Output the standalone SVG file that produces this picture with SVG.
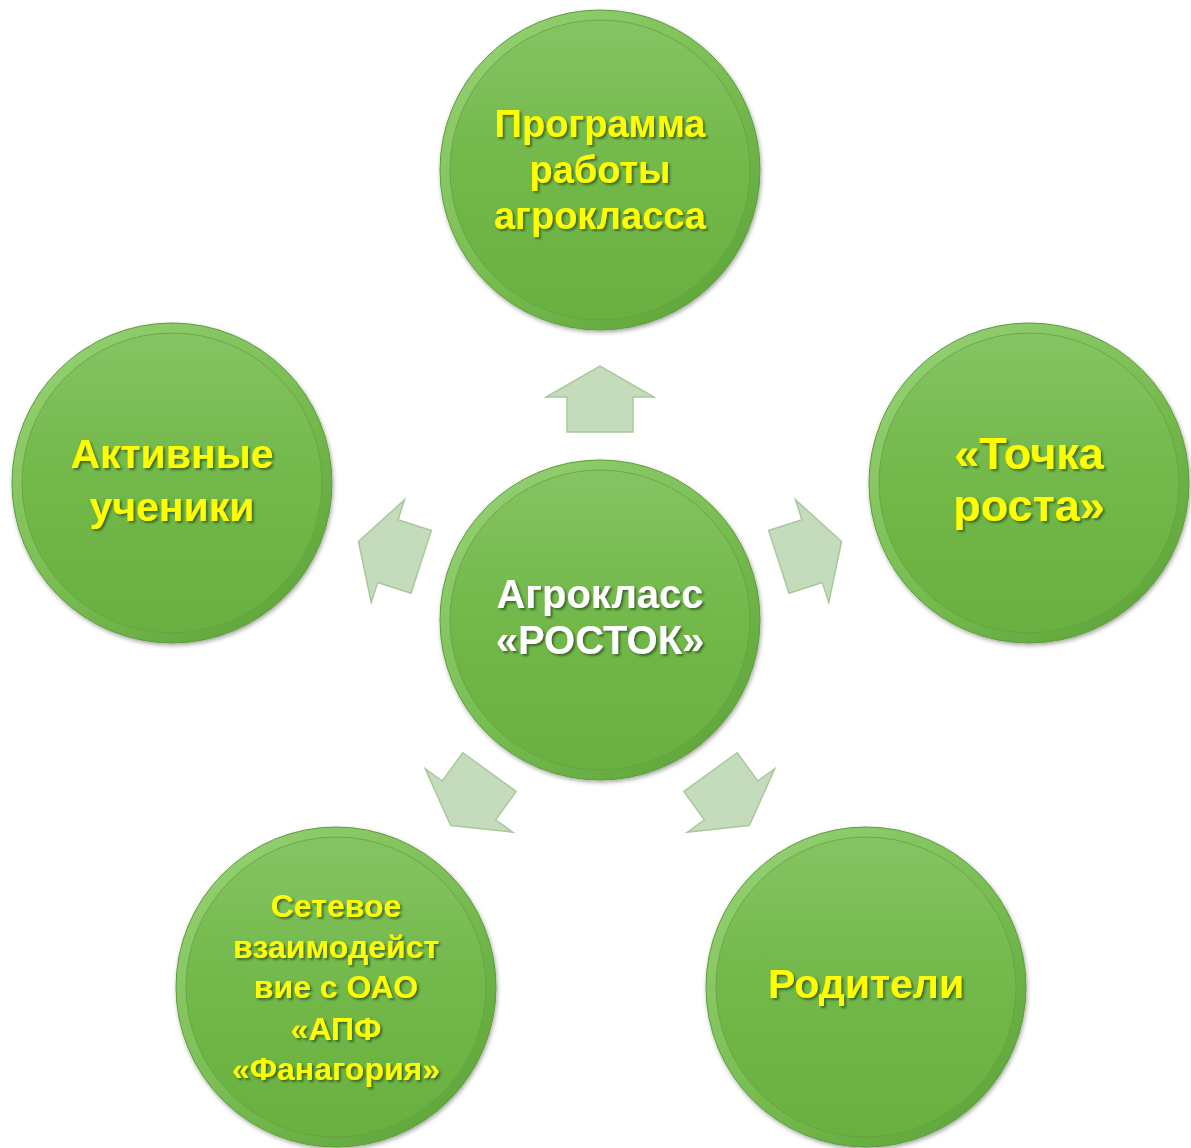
<svg xmlns="http://www.w3.org/2000/svg" width="1191" height="1148" viewBox="0 0 1191 1148">
<style>
.lbl{font-family:"Liberation Sans",Arial,sans-serif;font-weight:bold;text-anchor:middle;fill:#ffff00;filter:url(#ts)}
.white{fill:#ffffff}
.arrow{fill:#c4dcbb;stroke:#a9c99c;stroke-width:1.5;stroke-linejoin:miter}
.rim{fill:url(#rimG);stroke:#5c9d39;stroke-width:1}
.face{fill:url(#faceG);stroke:#62a23d;stroke-width:0.8}
</style>
<defs>
<linearGradient id="rimG" x1="0.15" y1="0.1" x2="0.85" y2="0.95">
<stop offset="0" stop-color="#92ce70"/>
<stop offset="0.5" stop-color="#79bd52"/>
<stop offset="1" stop-color="#5fa53a"/>
</linearGradient>
<linearGradient id="faceG" x1="0" y1="0" x2="0" y2="1">
<stop offset="0" stop-color="#86c463"/>
<stop offset="0.45" stop-color="#73b94b"/>
<stop offset="1" stop-color="#68b03f"/>
</linearGradient>
<filter id="ds" x="-10%" y="-10%" width="120%" height="120%">
<feDropShadow dx="1" dy="2" stdDeviation="2" flood-color="#000" flood-opacity="0.35"/>
</filter>
<filter id="ts" x="-10%" y="-20%" width="120%" height="140%">
<feDropShadow dx="2" dy="2" stdDeviation="1.2" flood-color="#2a4a1a" flood-opacity="0.7"/>
</filter>
<g id="bubble">
<circle r="160" class="rim" filter="url(#ds)"/>
<circle r="150" class="face"/>
</g>
<path id="arr" d="M567,432 L567,397 L546,397 L600,366 L654,397 L633,397 L633,432 Z"/>
</defs>
<g id="connectors">
<use href="#arr" class="arrow"/>
<use href="#arr" class="arrow" transform="rotate(-72 600 620)"/>
<use href="#arr" class="arrow" transform="rotate(72 600 620)"/>
<use href="#arr" class="arrow" transform="rotate(144 600 620)"/>
<use href="#arr" class="arrow" transform="rotate(-144 600 620)"/>
</g>
<g id="node-top">
<use href="#bubble" x="600" y="170"/>
<text class="lbl" font-size="38" x="600" y="137">Программа</text>
<text class="lbl" font-size="38" x="600" y="183">работы</text>
<text class="lbl" font-size="38" x="600" y="229">агрокласса</text>
</g>
<g id="node-center">
<use href="#bubble" x="600" y="620"/>
<text class="lbl white" font-size="40" x="600" y="608">Агрокласс</text>
<text class="lbl white" font-size="40" x="600" y="654">«РОСТОК»</text>
</g>
<g id="node-left">
<use href="#bubble" x="172" y="483"/>
<text class="lbl" font-size="41" x="172" y="468">Активные</text>
<text class="lbl" font-size="41" x="172" y="521">ученики</text>
</g>
<g id="node-right">
<use href="#bubble" x="1029" y="483"/>
<text class="lbl" font-size="45" x="1029" y="469">«Точка</text>
<text class="lbl" font-size="45" x="1029" y="521">роста»</text>
</g>
<g id="node-bottom-left">
<use href="#bubble" x="336" y="987"/>
<text class="lbl" font-size="32" x="336" y="917">Сетевое</text>
<text class="lbl" font-size="32" x="336" y="958">взаимодейст</text>
<text class="lbl" font-size="32" x="336" y="998">вие с ОАО</text>
<text class="lbl" font-size="32" x="336" y="1040">«АПФ</text>
<text class="lbl" font-size="32" x="336" y="1080">«Фанагория»</text>
</g>
<g id="node-bottom-right">
<use href="#bubble" x="866" y="987"/>
<text class="lbl" font-size="41" x="866" y="998">Родители</text>
</g>
</svg>
